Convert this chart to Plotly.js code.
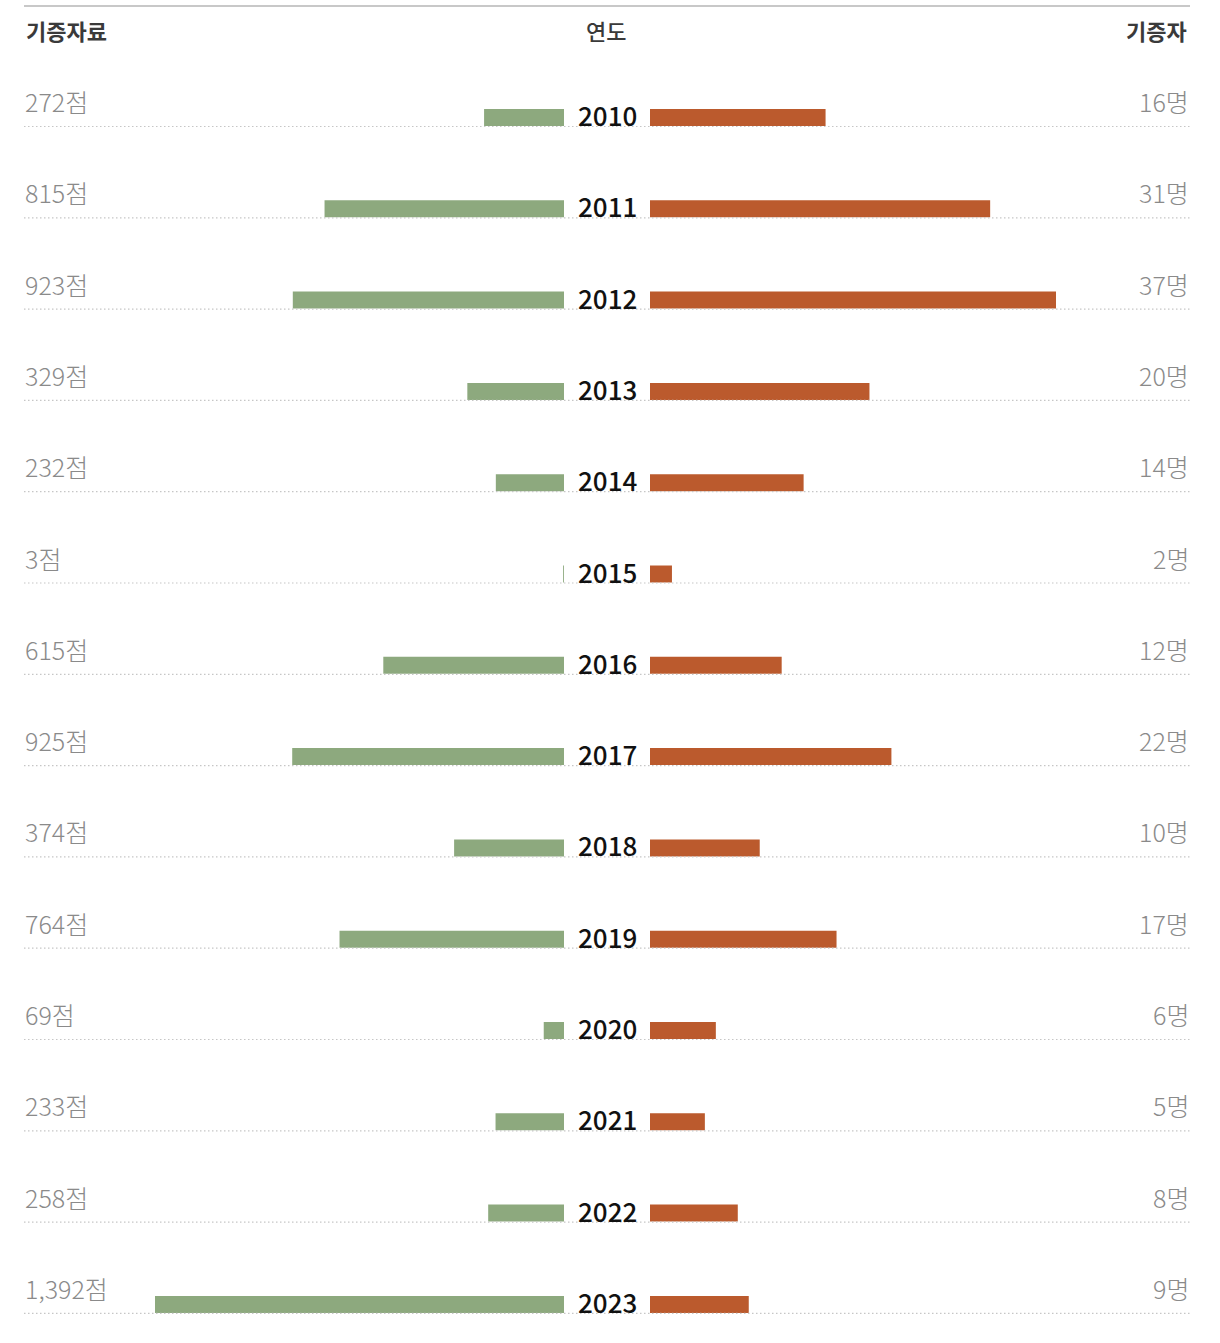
<!DOCTYPE html>
<html>
<head>
<meta charset="utf-8">
<script src="https://cdn.plot.ly/plotly-3.0.1.min.js"></script>
<style>
  html, body { margin: 0; padding: 0; background: #fff; }
  #chart { width: 1220px; height: 1343px; }
</style>
</head>
<body>
<div id="chart"></div>
<script>
// ---- data ----
const years = ['2010','2011','2012','2013','2014','2015','2016','2017','2018','2019','2020','2021','2022','2023'];
const materials = [272, 815, 923, 329, 232, 3, 615, 925, 374, 764, 69, 233, 258, 1392]; // 기증자료 (점)
const donors = [16, 31, 37, 20, 14, 2, 12, 22, 10, 17, 6, 5, 8, 9];                   // 기증자 (명)
const headerLeft = '기증자료';
const headerMid = '연도';
const headerRight = '기증자';

// ---- layout geometry ----
const W = 1220, H = 1343;
const rowPx = 91.3;          // pixel distance between rows
const firstCenter = 117.5;   // pixel y of first bar centre
const yTop = -firstCenter / rowPx;
const yBot = (H - firstCenter) / rowPx;
const idx = years.map((_, i) => i);

const leftScale = 409 / 1392;   // px per 점
const rightScale = 406 / 37;    // px per 명
const leftRange = (564 - 24) / leftScale;
const rightRange = (1190 - 650) / rightScale;

const font = '"Noto Sans CJK KR", "Noto Sans", sans-serif';
const barW = 17 / rowPx;

const traces = [
  {
    type: 'bar', orientation: 'h', x: materials, y: idx, xaxis: 'x', yaxis: 'y',
    width: barW, marker: { color: '#8da97e', line: { width: 0 } }, hoverinfo: 'skip'
  },
  {
    type: 'bar', orientation: 'h', x: donors, y: idx, xaxis: 'x2', yaxis: 'y',
    width: barW, marker: { color: '#bb5a2d', line: { width: 0 } }, hoverinfo: 'skip'
  }
];

const shapes = [{
  type: 'line', xref: 'paper', yref: 'paper', x0: 24 / W, x1: 1190 / W,
  y0: 1 - 6 / H, y1: 1 - 6 / H, line: { color: '#c8c8c8', width: 2 }
}];
const annotations = [
  { text: headerLeft, x: 24 / W, xanchor: 'left', y: 1 - 30.5 / H, yanchor: 'middle',
    font: { family: font, size: 22, color: '#3a3a3a', weight: 700 } },
  { text: headerMid, x: 606 / W, xanchor: 'center', y: 1 - 30.5 / H, yanchor: 'middle',
    font: { family: font, size: 22, color: '#3a3a3a', weight: 500 } },
  { text: headerRight, x: 1189 / W, xanchor: 'right', y: 1 - 30.5 / H, yanchor: 'middle',
    font: { family: font, size: 22, color: '#3a3a3a', weight: 700 } }
].map(a => Object.assign({ xref: 'paper', yref: 'paper', showarrow: false }, a));

years.forEach((yr, i) => {
  const lineY = i + 9 / rowPx;
  shapes.push({
    type: 'line', xref: 'paper', yref: 'y', x0: 24 / W, x1: 1190 / W,
    y0: lineY, y1: lineY, layer: 'above',
    line: { color: '#c6c6c6', width: 1.2, dash: '1.5px,2.5px' }
  });
  const labY = i - 16.5 / rowPx;
  annotations.push({
    xref: 'paper', yref: 'y', x: 23 / W, xanchor: 'left', y: labY, yanchor: 'middle',
    text: materials[i].toLocaleString('en-US') + '점', showarrow: false,
    font: { family: font, size: 25, color: '#8a8a8a', weight: 300 }
  });
  annotations.push({
    xref: 'paper', yref: 'y', x: 1190.5 / W, xanchor: 'right', y: labY, yanchor: 'middle',
    text: donors[i] + '명', showarrow: false,
    font: { family: font, size: 25, color: '#8a8a8a', weight: 300 }
  });
  annotations.push({
    xref: 'paper', yref: 'y', x: 607.5 / W, xanchor: 'center', y: i - 3 / rowPx, yanchor: 'middle',
    text: yr, showarrow: false,
    font: { family: font, size: 26, color: '#111111', weight: 500 }
  });
});

const layout = {
  width: W, height: H,
  margin: { l: 0, r: 0, t: 0, b: 0, pad: 0 },
  paper_bgcolor: '#ffffff', plot_bgcolor: 'rgba(0,0,0,0)',
  showlegend: false, barmode: 'overlay',
  xaxis: { domain: [24 / W, 564 / W], range: [leftRange, 0], visible: false, fixedrange: true },
  xaxis2: { domain: [650 / W, 1190 / W], range: [0, rightRange], visible: false, fixedrange: true, anchor: 'y' },
  yaxis: { domain: [0, 1], range: [yBot, yTop], visible: false, fixedrange: true },
  shapes: shapes,
  annotations: annotations
};

Plotly.newPlot('chart', traces, layout, { displayModeBar: false, staticPlot: true });
</script>
</body>
</html>
